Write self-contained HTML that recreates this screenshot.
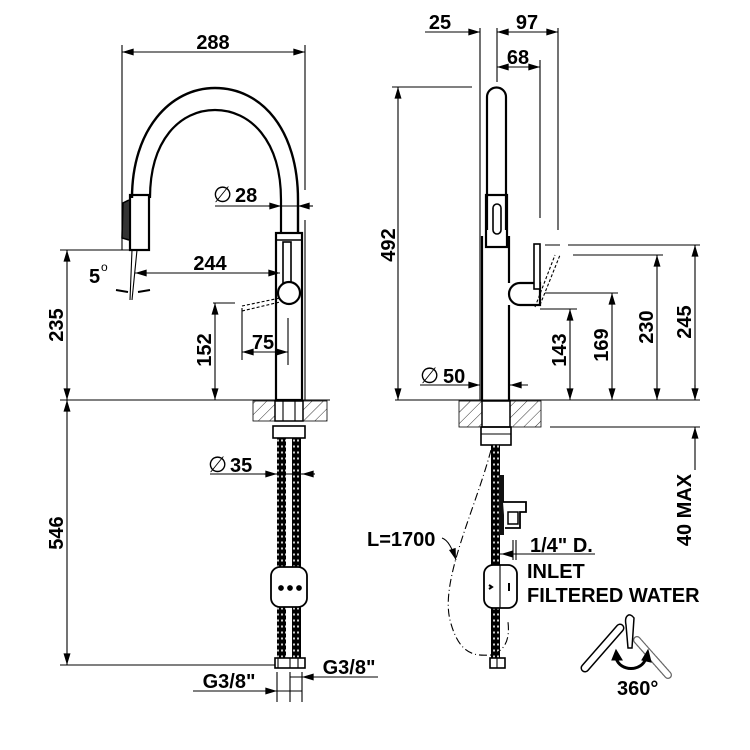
<!DOCTYPE html>
<html><head><meta charset="utf-8"><style>
html,body{margin:0;padding:0;background:#fff}
svg{display:block}
text{font-family:"Liberation Sans",sans-serif;font-weight:bold;font-size:20px;fill:#000}
</style></head><body>
<svg width="750" height="750" viewBox="0 0 750 750" xmlns="http://www.w3.org/2000/svg">
<defs>
<marker id="a" viewBox="0 0 10 6" refX="10" refY="3" markerWidth="13" markerHeight="7" markerUnits="userSpaceOnUse" orient="auto-start-reverse"><path d="M0,0L10,3L0,6z" fill="#000"/></marker>
<pattern id="h" width="8" height="8" patternUnits="userSpaceOnUse" patternTransform="rotate(45)"><line x1="0" y1="0" x2="0" y2="8" stroke="#000" stroke-width="0.8"/></pattern>
<pattern id="hose" width="4" height="6" patternUnits="userSpaceOnUse"><rect width="4" height="6" fill="#000"/><rect x="1.2" y="1.5" width="1.6" height="2" fill="#fff"/></pattern>
</defs>
<g fill="none" stroke="#000" stroke-width="1.1">
<!-- LEFT VIEW -->
<line x1="122" y1="45" x2="122" y2="250"/>
<line x1="305" y1="45" x2="305" y2="190"/>
<line x1="305" y1="220" x2="305" y2="400"/>
<line x1="122" y1="52" x2="305" y2="52" marker-start="url(#a)" marker-end="url(#a)"/>
<path d="M132,198 C132,130 170,88 215,88 C262,88 298,130 298,200 L298,233" stroke-width="2.4"/>
<path d="M150,198 C150,140 180,110 215,110 C250,110 281,140 281,200 L281,233" stroke-width="2.2"/>
<rect x="130" y="195" width="19" height="55" stroke-width="2.2"/>
<path d="M129,200 L123,203 L122,238 L129,240" fill="#333" stroke-width="1.5"/>
<rect x="276" y="233" width="26" height="167" stroke-width="2.2"/>
<line x1="276" y1="240" x2="302" y2="240" stroke-width="1.5"/>
<rect x="283" y="242" width="8" height="42" stroke-width="1.6"/>
<circle cx="289" cy="293" r="11" fill="#fff" stroke-width="2.2"/>
<path d="M242,306 L280,298 M242,311 L280,302" stroke-dasharray="3,2"/>
<line x1="137" y1="250" x2="132" y2="300"/>
<line x1="132" y1="250" x2="130" y2="300"/>
<path d="M116,290 L128,292 M138,292 L150,290" stroke-width="2"/>
<line x1="135" y1="273" x2="280" y2="273" marker-start="url(#a)" marker-end="url(#a)"/>
<line x1="215" y1="206" x2="313" y2="206"/>
<path d="M268,206 L281,206" marker-end="url(#a)"/>
<path d="M313,206 L298,206" marker-end="url(#a)"/>
<line x1="213" y1="303" x2="235" y2="303"/>
<line x1="215" y1="303" x2="215" y2="400" marker-start="url(#a)" marker-end="url(#a)"/>
<line x1="242" y1="308" x2="242" y2="360"/>
<line x1="288" y1="318" x2="288" y2="365"/>
<line x1="242" y1="352" x2="288" y2="352" marker-start="url(#a)" marker-end="url(#a)"/>
<line x1="60" y1="250" x2="130" y2="250"/>
<line x1="67" y1="250" x2="67" y2="400" marker-start="url(#a)" marker-end="url(#a)"/>
<line x1="60" y1="400" x2="330" y2="400"/>
<line x1="67" y1="400" x2="67" y2="665" marker-start="url(#a)" marker-end="url(#a)"/>
<line x1="60" y1="665" x2="275" y2="665"/>
<rect x="253" y="401" width="74" height="20" fill="url(#h)" stroke-width="0.8"/>
<rect x="275" y="401" width="28" height="20" fill="#fff" stroke-width="1.5"/>
<line x1="283" y1="401" x2="283" y2="421"/><line x1="295" y1="401" x2="295" y2="421"/>
<rect x="273" y="426" width="32" height="12" stroke-width="1.6"/>
<rect x="277" y="438" width="9" height="220" fill="url(#hose)" stroke="none"/>
<rect x="292" y="438" width="9" height="220" fill="url(#hose)" stroke="none"/>
<rect x="271" y="567" width="36" height="40" rx="9" fill="#fff" stroke-width="1.8"/>
<circle cx="281" cy="588" r="2.3" fill="#000"/><circle cx="290" cy="588" r="2.3" fill="#000"/><circle cx="299" cy="588" r="2.3" fill="#000"/>
<rect x="275" y="658" width="30" height="10" fill="#fff" stroke-width="1.6"/>
<line x1="278" y1="658" x2="278" y2="668"/><line x1="290" y1="658" x2="290" y2="668"/><line x1="298" y1="658" x2="298" y2="668"/>
<line x1="210" y1="474" x2="315" y2="474"/>
<path d="M264,474 L277,474" marker-end="url(#a)"/>
<path d="M315,474 L302,474" marker-end="url(#a)"/>
<line x1="277" y1="672" x2="277" y2="702"/><line x1="290" y1="672" x2="290" y2="702"/><line x1="302" y1="672" x2="302" y2="702"/>
<line x1="193" y1="691" x2="302" y2="691"/>
<path d="M260,691 L277,691" marker-end="url(#a)"/>
<line x1="290" y1="677" x2="378" y2="677"/>
<path d="M320,677 L302,677" marker-end="url(#a)"/>
<!-- RIGHT VIEW -->
<line x1="480" y1="28" x2="480" y2="400"/>
<line x1="497" y1="28" x2="497" y2="82"/>
<line x1="558" y1="28" x2="558" y2="230"/>
<line x1="540" y1="60" x2="540" y2="218"/>
<line x1="425" y1="32" x2="480" y2="32" marker-end="url(#a)"/>
<line x1="497" y1="32" x2="558" y2="32" marker-start="url(#a)" marker-end="url(#a)"/>
<line x1="497" y1="67" x2="540" y2="67" marker-start="url(#a)" marker-end="url(#a)"/>
<line x1="392" y1="87" x2="472" y2="87"/>
<line x1="398" y1="87" x2="398" y2="400" marker-start="url(#a)" marker-end="url(#a)"/>
<path d="M487,230 L487,97 A9.5,9.5 0 0 1 506,97 L506,230" stroke-width="2.2"/>
<rect x="486" y="195" width="21" height="52" stroke-width="2.2"/>
<rect x="493" y="204" width="8" height="30" rx="4" stroke-width="1.6"/>
<path d="M482,236 L482,400 M509,236 L509,283 M509,305 L509,400" stroke-width="2.2"/>
<path d="M520,283 L540,283 L540,305 L520,305 A11,11 0 0 1 520,283z" fill="#fff" stroke-width="2.2"/>
<rect x="534" y="244" width="6" height="45" fill="#fff" stroke-width="1.6"/>
<path d="M540,305 L560,255 M535,307 L555,255" stroke-dasharray="3,2"/>
<path d="M545,245 L560,245 M568,245 L700,245"/>
<line x1="695" y1="245" x2="695" y2="400" marker-start="url(#a)" marker-end="url(#a)"/>
<line x1="573" y1="255" x2="663" y2="255"/>
<line x1="657" y1="255" x2="657" y2="400" marker-start="url(#a)" marker-end="url(#a)"/>
<line x1="545" y1="293" x2="618" y2="293"/>
<line x1="612" y1="293" x2="612" y2="400" marker-start="url(#a)" marker-end="url(#a)"/>
<line x1="540" y1="309" x2="577" y2="309"/>
<line x1="570" y1="309" x2="570" y2="400" marker-start="url(#a)" marker-end="url(#a)"/>
<line x1="420" y1="385" x2="480" y2="385" marker-end="url(#a)"/>
<line x1="528" y1="385" x2="510" y2="385" marker-end="url(#a)"/>
<line x1="395" y1="400" x2="700" y2="400"/>
<rect x="459" y="401" width="82" height="26" fill="url(#h)" stroke-width="0.8"/>
<rect x="482" y="401" width="28" height="26" fill="#fff" stroke-width="1.5"/>
<rect x="481" y="427" width="30" height="18" stroke-width="1.6"/>
<line x1="481" y1="434" x2="511" y2="434"/>
<line x1="550" y1="427" x2="700" y2="427"/>
<line x1="695" y1="470" x2="695" y2="427" marker-end="url(#a)"/>
<line x1="695" y1="385" x2="695" y2="400" marker-end="url(#a)"/>
<rect x="491" y="445" width="9" height="213" fill="url(#hose)" stroke="none"/>
<rect x="499" y="475" width="5" height="60" fill="#111" stroke="none"/>
<path d="M503,502 L526,502 L526,512 L520,512 L520,528 L505,528" fill="#fff" stroke-width="1.8"/>
<rect x="508" y="512" width="10" height="12" stroke-width="1.5"/>
<line x1="513" y1="540" x2="513" y2="560"/><line x1="516" y1="540" x2="516" y2="560"/>
<rect x="484" y="565" width="33" height="43" rx="9" fill="#fff" stroke-width="1.8"/>
<line x1="500" y1="565" x2="500" y2="608"/>
<path d="M489,585 L492,587 L489,589 M509,583 L509,591" stroke-width="2"/>
<rect x="490" y="658" width="15" height="10" fill="#fff" stroke-width="1.6"/>
<line x1="497" y1="658" x2="497" y2="668"/>
<line x1="500" y1="554" x2="595" y2="554"/>
<line x1="530" y1="554" x2="501" y2="554" marker-end="url(#a)"/>
<path d="M491,450 C475,510 440,580 450,620 C460,660 480,655 492,655 C505,650 510,640 508,622" stroke-dasharray="8,3,1,3"/>
<path d="M442,538 C448,540 452,548 456,560" marker-end="url(#a)"/>
<!-- 360 icon -->
<path d="M585,668 L620,628" stroke-width="9" stroke-linecap="round"/>
<path d="M585,668 L620,628" stroke="#fff" stroke-width="6" stroke-linecap="round"/>
<path d="M626,625 C624,615 630,612 634,618 L632,648 L628,648z" fill="#fff" stroke-width="1.5"/>
<path d="M637,640 L668,675" stroke-width="8" stroke-linecap="round" stroke-dasharray="2,1.5" stroke-opacity="0.6"/>
<path d="M637,640 L668,675" stroke="#fff" stroke-width="5.5" stroke-linecap="round"/>
<path d="M616,658 C620,672 642,672 646,658" stroke-width="3"/>
<path d="M612,660 L616,650 L622,660z M642,660 L648,650 L651,662z" fill="#000"/>
</g>
<g>
<text x="213" y="49" text-anchor="middle">288</text>
<text x="235" y="202">28</text>
<text x="213" y="202" style="font-weight:normal;font-size:22px">∅</text>
<text x="210" y="270" text-anchor="middle">244</text>
<text x="89" y="283">5</text>
<text x="101" y="271" style="font-size:12px;font-weight:normal">o</text>
<text x="263" y="349" text-anchor="middle">75</text>
<text transform="translate(211,350) rotate(-90)" text-anchor="middle">152</text>
<text transform="translate(63,325) rotate(-90)" text-anchor="middle">235</text>
<text transform="translate(63,533) rotate(-90)" text-anchor="middle">546</text>
<text x="208" y="472" style="font-weight:normal;font-size:22px">∅</text>
<text x="230" y="472">35</text>
<text x="229" y="688" text-anchor="middle">G3/8"</text>
<text x="349" y="674" text-anchor="middle">G3/8"</text>
<text x="440" y="29" text-anchor="middle">25</text>
<text x="527" y="29" text-anchor="middle">97</text>
<text x="518" y="64" text-anchor="middle">68</text>
<text transform="translate(395,245) rotate(-90)" text-anchor="middle">492</text>
<text x="420" y="383" style="font-weight:normal;font-size:22px">∅</text>
<text x="443" y="383">50</text>
<text transform="translate(566,350) rotate(-90)" text-anchor="middle">143</text>
<text transform="translate(608,345) rotate(-90)" text-anchor="middle">169</text>
<text transform="translate(653,327) rotate(-90)" text-anchor="middle">230</text>
<text transform="translate(691,322) rotate(-90)" text-anchor="middle">245</text>
<text transform="translate(691,510) rotate(-90)" text-anchor="middle">40 MAX</text>
<text x="367" y="546">L=1700</text>
<text x="530" y="552">1/4" D.</text>
<text x="527" y="578">INLET</text>
<text x="527" y="602">FILTERED WATER</text>
<text x="617" y="695">360°</text>
</g>
</svg>
</body></html>
